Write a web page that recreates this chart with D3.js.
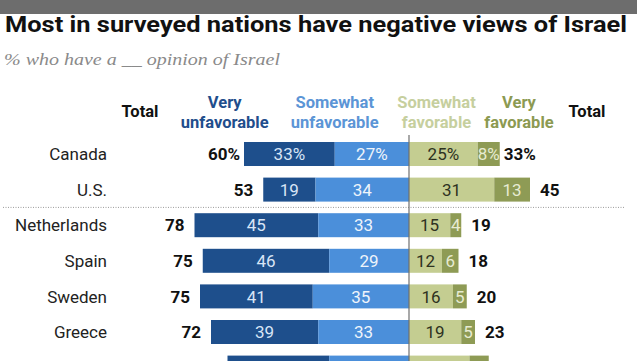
<!DOCTYPE html>
<html>
<head>
<meta charset="utf-8">
<script src="https://cdn.jsdelivr.net/npm/d3@7"></script>
<style>
  body { margin: 0; background: #fff; }
  svg { display: block; }
  text { font-family: Roboto, "Liberation Sans", sans-serif; }
</style>
</head>
<body>
<div id="chart"></div>
<script>
// data
var countries = ["Canada", "U.S.", "Netherlands", "Spain", "Sweden", "Greece", "Italy"];
var veryUnfav = [33, 19, 45, 46, 41, 39, 37];
var somewhatUnfav = [27, 34, 33, 29, 35, 33, 29];
var somewhatFav = [25, 31, 15, 12, 16, 19, 22];
var veryFav = [8, 13, 4, 6, 5, 5, 7];
var totalUnfav = [60, 53, 78, 75, 75, 72, 66];
var totalFav = [33, 45, 19, 18, 20, 23, 29];
var headers = [
    {lines: ["Very", "unfavorable"], x: -67, color: "#1f4e8c"},
    {lines: ["Somewhat", "unfavorable"], x: -27, color: "#5b95d6"},
    {lines: ["Somewhat", "favorable"], x: 10, color: "#c6cf9e"},
    {lines: ["Very", "favorable"], x: 40, color: "#8c9a52"}
];

var width = 637, height = 361;

var svg = d3.select("#chart")
    .append("svg")
    .attr("width", width)
    .attr("height", height);

// gray strip at the top
svg.append("rect")
    .attr("x", 0).attr("y", 0)
    .attr("width", width).attr("height", 14)
    .attr("fill", "#6d6d6d");

// title + subtitle
svg.append("text")
    .attr("x", 5).attr("y", 32)
    .attr("textLength", 622)
    .attr("lengthAdjust", "spacingAndGlyphs")
    .style("font-size", "22px")
    .style("font-weight", "700")
    .attr("fill", "#111")
    .text("Most in surveyed nations have negative views of Israel");

svg.append("text")
    .attr("x", 4).attr("y", 65)
    .attr("textLength", 276)
    .attr("lengthAdjust", "spacingAndGlyphs")
    .style("font-family", "'Liberation Serif', 'DejaVu Serif', serif")
    .style("font-style", "italic")
    .style("font-size", "17px")
    .attr("fill", "#8a8a8a")
    .text("% who have a __ opinion of Israel");

// scales
var x = d3.scaleLinear()
    .domain([-80, 80])
    .range([409 - 220, 409 + 220]);

var y = d3.scaleBand()
    .domain(countries)
    .range([136.2, 136.2 + 7 * 35.6])
    .paddingInner(0.326)
    .paddingOuter(0.163);

// build segments per row
var segs = [];
countries.forEach(function(c, i) {
    var pct = i == 0 ? "%" : "";
    segs.push({c: c, x0: -veryUnfav[i] - somewhatUnfav[i], x1: -somewhatUnfav[i], v: veryUnfav[i] + pct, fill: "#1e4f8c", tc: "#d8e5f6"});
    segs.push({c: c, x0: -somewhatUnfav[i], x1: 0, v: somewhatUnfav[i] + pct, fill: "#4b8fda", tc: "#eef4fb"});
    segs.push({c: c, x0: 0, x1: somewhatFav[i], v: somewhatFav[i] + pct, fill: "#c4cd91", tc: "#2e321f"});
    segs.push({c: c, x0: somewhatFav[i], x1: somewhatFav[i] + veryFav[i], v: veryFav[i] + pct, fill: "#8e9b55", tc: "#e7ebd2"});
});

svg.selectAll("rect.seg")
    .data(segs)
    .enter()
    .append("rect")
    .attr("class", "seg")
    .attr("x", function(d) { return x(d.x0); })
    .attr("y", function(d) { return y(d.c); })
    .attr("width", function(d) { return x(d.x1) - x(d.x0); })
    .attr("height", y.bandwidth())
    .attr("fill", function(d) { return d.fill; });

svg.selectAll("text.seg")
    .data(segs)
    .enter()
    .append("text")
    .attr("class", "seg")
    .attr("x", function(d) { return (x(d.x0) + x(d.x1)) / 2; })
    .attr("y", function(d) { return y(d.c) + y.bandwidth() / 2; })
    .attr("dy", "0.36em")
    .attr("text-anchor", "middle")
    .style("font-size", "17px")
    .attr("fill", function(d) { return d.tc; })
    .text(function(d) { return d.v; });

// country names
svg.selectAll("text.country")
    .data(countries)
    .enter()
    .append("text")
    .attr("class", "country")
    .attr("x", 107)
    .attr("y", function(d) { return y(d) + y.bandwidth() / 2; })
    .attr("dy", "0.36em")
    .attr("text-anchor", "end")
    .style("font-size", "17px")
    .attr("fill", "#222")
    .text(function(d) { return d; });

// totals on each side
countries.forEach(function(c, i) {
    var gap = i == 0 ? 4 : 10;
    var pct = i == 0 ? "%" : "";
    svg.append("text")
        .attr("x", x(-veryUnfav[i] - somewhatUnfav[i]) - gap)
        .attr("y", y(c) + y.bandwidth() / 2)
        .attr("dy", "0.36em")
        .attr("text-anchor", "end")
        .style("font-size", "17px")
        .style("font-weight", "700")
        .attr("fill", "#111")
        .text(totalUnfav[i] + pct);
    svg.append("text")
        .attr("x", x(somewhatFav[i] + veryFav[i]) + gap)
        .attr("y", y(c) + y.bandwidth() / 2)
        .attr("dy", "0.36em")
        .attr("text-anchor", "start")
        .style("font-size", "17px")
        .style("font-weight", "700")
        .attr("fill", "#111")
        .text(totalFav[i] + pct);
});

// column headers
headers.forEach(function(h) {
    var t = svg.append("text")
        .attr("x", x(h.x))
        .attr("y", 108)
        .attr("text-anchor", "middle")
        .style("font-size", "16.5px")
        .style("font-weight", "700")
        .attr("fill", h.color);
    t.append("tspan").attr("x", x(h.x)).text(h.lines[0]);
    t.append("tspan").attr("x", x(h.x)).attr("dy", 20).text(h.lines[1]);
});
svg.append("text")
    .attr("x", 140).attr("y", 117)
    .attr("text-anchor", "middle")
    .style("font-size", "16.5px")
    .style("font-weight", "700")
    .attr("fill", "#111")
    .text("Total");
svg.append("text")
    .attr("x", 587).attr("y", 117)
    .attr("text-anchor", "middle")
    .style("font-size", "16.5px")
    .style("font-weight", "700")
    .attr("fill", "#111")
    .text("Total");

// dotted divider between North America and Europe
var divY = (y("U.S.") + y.bandwidth() + y("Netherlands")) / 2;
svg.append("line")
    .attr("x1", 3).attr("x2", 625)
    .attr("y1", divY).attr("y2", divY)
    .attr("stroke", "#9a9a9a")
    .attr("stroke-width", 1)
    .attr("stroke-dasharray", "1,1.5");

// center line
svg.append("line")
    .attr("x1", x(0)).attr("x2", x(0))
    .attr("y1", 135).attr("y2", height)
    .attr("stroke", "#6f6f6f")
    .attr("stroke-width", 1.2);
</script>
</body>
</html>
